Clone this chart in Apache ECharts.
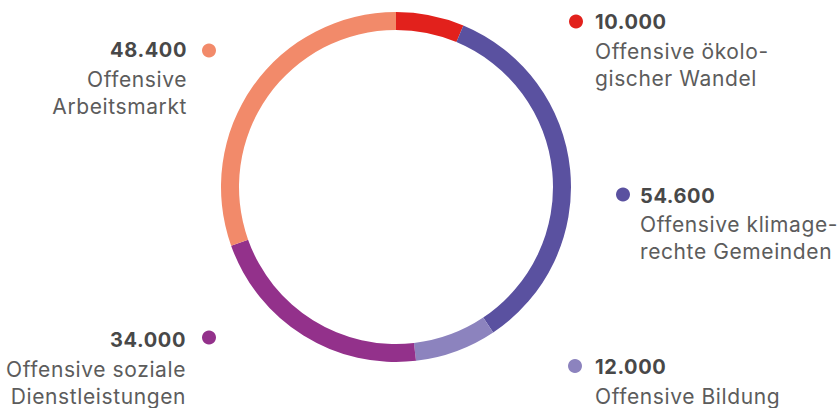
<!DOCTYPE html>
<html><head><meta charset="utf-8">
<script src="https://cdn.jsdelivr.net/npm/echarts@6/dist/echarts.min.js"></script>
<style>html,body{margin:0;padding:0;background:#fff}#c{width:837px;height:408px}#c svg text{letter-spacing:0.6px}</style>
</head><body><div id="c"></div>
<script>
const categories = ["Offensive ökolo-\ngischer Wandel", "Offensive klimage-\nrechte Gemeinden", "Offensive Bildung", "Offensive soziale\nDienstleistungen", "Offensive\nArbeitsmarkt"];
const values = [10000, 54600, 12000, 34000, 48400];
const colors = ["#e2211c", "#5a51a0", "#8c83be", "#93318b", "#f28a6a"];

// label layout: [dotX, dotY, textX, numberCenterY, side]
const labelPos = [
  [576, 21.5, 595, 22, 'left'],
  [623, 194.5, 640, 195.5, 'left'],
  [575, 366, 595, 367, 'left'],
  [209, 337.5, 186, 340, 'right'],
  [209, 50.5, 187, 50, 'right']
];

function fmt(v){ return v.toLocaleString('de-DE'); }

const FONT = 'Inter';
const graphics = [];
values.forEach((v, i) => {
  const [dx, dy, tx, ty, side] = labelPos[i];
  graphics.push({type:'circle', shape:{cx:dx, cy:dy, r:7}, style:{fill:colors[i]}, silent:true});
  graphics.push({type:'text', x:tx, y:ty, style:{text:fmt(v), fill:'#484848', font:'bold 20px ' + FONT, textAlign:side, textVerticalAlign:'middle'}});
  graphics.push({type:'text', x:tx, y:ty+15.5, style:{text:categories[i], fill:'#5c5c5c', fontFamily:FONT, fontSize:21, lineHeight:27, textAlign:side, textVerticalAlign:'top'}});
});

const chart = echarts.init(document.getElementById('c'), null, {renderer:'svg'});
chart.setOption({
  animation:false,
  graphic: graphics,
  series:[{
    type:'pie',
    center:[396, 187],
    radius:[157, 175],
    startAngle:90,
    clockwise:true,
    label:{show:false},
    labelLine:{show:false},
    silent:true,
    data: values.map((v,i)=>({value:v, name:categories[i], itemStyle:{color:colors[i]}}))
  }]
});
</script></body></html>
